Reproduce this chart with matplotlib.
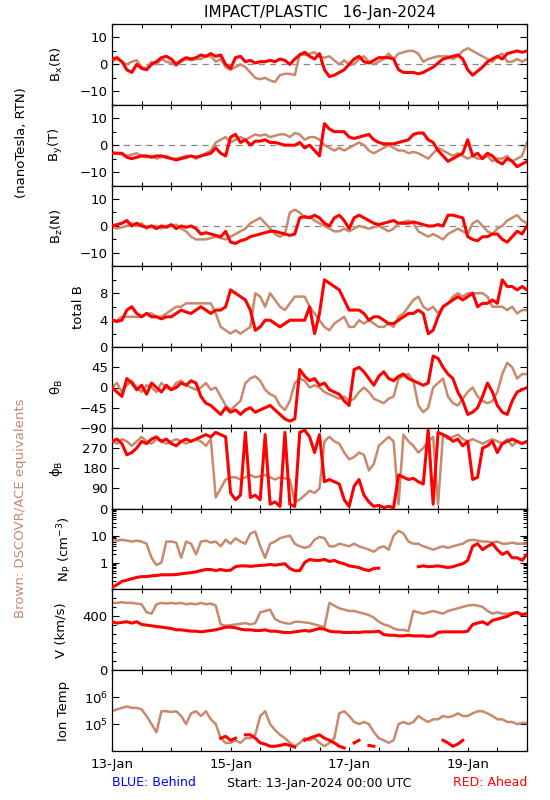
import numpy as np
import matplotlib
matplotlib.use('Agg')
import matplotlib.pyplot as plt
from matplotlib.ticker import MultipleLocator, LogLocator, NullLocator

plt.rcParams.update({
    'font.family': 'DejaVu Sans',
    'font.size': 9,
    'mathtext.default': 'regular',
})

RED = '#ff0000'
BROWN = '#c8896d'
nan = np.nan

# 2-hour samples, 13-Jan 00:00 -> 20-Jan 00:00
bx_red = [2, 2.5, 1, -2, -3, 0, -1.5, -2, 0, 1, 2.5, 3, 2, 0, 1.5, 2.5, 2, 2.5, 3.5, 3, 4,
          3, 3.5, 0, -1.5, 2.5, 3, 1, 1.5, 0.5, 1, 1, 1.5, 1, 2, 1.5, 0, 2, 3.5, 4.5, 3,
          2, 4, -2, -4.5, -4, -3, -2, 0, 2, 3, 1, 0.5, 1.5, 2.5, 2.5, 2.5, 2, -2, -3, -3,
          -3, -3.5, -3, -2, -1, 0.5, 2, 2.5, 3, 3.5, 2, -2, -4, -2.5, -1, 1, 2, 3, 2, 4,
          4.5, 5, 4.5, 5]
bx_brown = [1, 2, 1, 0, 1, 1.5, -1, -1.5, 1, 0, 2, 1, 0.5, -0.5, 1, 2, 1.5, 2, 2, 3, 3,
            1, 2, -1, -2, -1, 0, -1, -3, -5, -5.5, -5, -6, -6.5, -4, -3.5, -3.5, -4, 4, 3.5, 4,
            4.5, 3, 2.5, 3, 1.5, 0, 1.5, 0, 0, 2, 3, 1, 0, 1, 2, 4, 2, 4, 4.5, 5,
            5, 4, 1, 2, 2.5, 3, 3, 3, 2, 3, 5, 6, 5, 4, 3, 2, 1, 3, 4, 1,
            1, 2, 1, 2]

by_red = [-3, -3, -3, -4.5, -5, -4.5, -4, -4, -4.5, -4, -4, -4.5, -5, -5.5, -5, -4.5, -4,
          -4.5, -4, -3.5, -3, -1, -3, -4, 3, 4, 1, 2, 0, 1.5, 1.5, 2, 1, 1, 0.5, 0, 0,
          0, 1, -1, 0, -2, -4, 8, 6, 5, 5, 5, 3, 2.5, 3, 3.5, 4, 2, 1, 0.5, 0.5,
          0.5, 1, 1.5, 2, 4, 4.5, 4.5, 2, 1, -2, -4, -6, -5, -4, -3, 2, -4, -3, -5, -3,
          -4, -6, -7, -5, -6, -8, -7, -6]
by_brown = [-2.5, -3, -3.5, -4, -3.5, -3, -4, -4.5, -4, -5, -4.5, -4, -5, -5, -4.5, -4, -4,
            -5, -4, -3, -2, 1, 2, 3, 1, 2, 3, 2, 3, 4, 3.5, 4, 3, 3.5, 4, 4, 3,
            4.5, 4, 2, 3, 3, 2, 0, -1, -2, -1, -2, -1, 0, 1, 0, -2, -3, -2, -1, 0,
            -1, -2, -2, -3, -2.5, -3, -4, -5, -3, -1, -2, -3, -4, -3, -4, -5, -4, -5, -5, -4,
            -6, -5, -5, -4, -6, -5, -4, 1]

bz_red = [0, 0.5, 1, 2, 0, 1, 0, -0.5, 0, -1, 0, -0.5, 0.5, -1, 0, -0.5, 0, -1, -3, -2.5,
          -3, -3.5, -4, -2, -6, -6.5, -5.5, -5, -4, -3.5, -3, -2.5, -2, -2, -2.5, -3, -3.5,
          -3, 3, 3.5, 3, 4, 3, 1, 0, 3, 4, 2, -1, 3, 4, 3, 2, 1, 0.5, 1, 1.5,
          2, 1, 1, 1, 1.5, 1, 0.5, 0, 0, 0.5, 0, 4, 4, 3.5, 3, -4, -5, -5.5, -4, -4,
          -3, -3, -5, -6, -4, -2, -3, 0]
bz_brown = [0, -1, -0.5, 0, 1, 0, 1, -1, 0, 0, -1, 0, 0, 0.5, -1, -2, -4, -5, -5, -5,
            -4.5, -4, -4.5, -5, -4, -3, -2, -1, 1, 2, 3, 1, -1, -3, -4, -3, 5, 6, 5, 3,
            3.5, 2, 1, 0, -1, -2, -2, -1, -2, -1, 0, -0.5, -1, -0.5, 0, -1, -2, -1, 1,
            1.5, 2, 1, -2, -3, -4, -3, -4, -5, -3, -2, -1, -2, -3, 1, 2, 0, -2, -3, -1,
            0, 2, 3, 4, 2, 1]

bt_red = [4, 3.8, 4, 5.5, 6, 5, 4.5, 5, 4.5, 4.5, 4.2, 4.5, 4.5, 5, 5.5, 5.2, 5, 5.5, 6,
          5.5, 5, 5.5, 5.5, 6, 8.5, 8, 7.5, 7, 5.5, 2.5, 3, 4, 4, 3.5, 3, 3.5, 4, 4, 4,
          4, 6, 2, 5, 10, 9.5, 9, 8.5, 7, 5.5, 5.5, 5.5, 5, 4, 4.5, 4.5, 4, 3.5, 3.5,
          4, 4.5, 5, 5, 5.5, 5, 2, 2.5, 4.5, 6, 6.5, 7, 7.5, 7, 7.5, 8, 6, 6.5, 6.5,
          7, 6.5, 10, 9, 9, 8.5, 9, 8.5]
bt_brown = [4, 4, 4.5, 4.5, 4.5, 4.5, 4.5, 5, 5, 4.5, 4.5, 5, 5.5, 6, 6, 6.5, 6.5, 6.5,
            6.5, 6.5, 6.5, 5, 3, 2.5, 2, 2.5, 2, 2.5, 3, 8, 7.5, 6, 8, 7, 6, 5.5, 6.5,
            7.5, 7.5, 7.5, 6, 5, 4, 3, 2.5, 3.5, 4, 4.5, 3, 3, 4, 3.5, 4, 3.5, 3, 3,
            3.5, 3, 4.5, 5, 6, 7, 7.5, 6, 5.5, 6, 5, 6, 6.5, 7.5, 8, 7.5, 8, 8, 8, 8,
            7.5, 6, 6, 6, 5.5, 6, 5, 5.5, 5.5]

theta_red = [0, -10, -20, 20, 10, -5, 5, -15, 10, 0, -10, 5, -5, 0, 10, 5, 15, 10, -20,
             -35, -40, -50, -60, -45, -55, -50, -60, -50, -45, -55, -50, -45, -40, -50,
             -60, -70, -75, -70, 40, 25, 15, 20, 5, 10, -5, -10, -15, -30, -40, 40, 45,
             35, 20, 5, 25, 35, 20, 15, 25, 30, 20, 15, 10, 5, 10, 70, 65, 45, 30, 20,
             -10, -30, -60, -55, -45, -20, 10, -10, -40, -55, -60, -30, -10, -5, 0]
theta_brown = [0, 10, -10, 5, 15, 0, -10, 5, 0, -10, 10, 0, -5, 10, 15, 5, 0, -5, 0, 10,
               -5, 0, -20, -40, -50, -40, -30, 10, 20, 25, 15, -5, -15, -20, -40, -50,
               -30, 10, 20, 15, 0, 5, 0, -10, -15, -20, -25, -20, -30, -25, -10, 0, -10,
               -25, -30, -35, -25, -20, 20, 25, 30, 15, -40, -55, -45, 0, 10, 20, -20,
               -35, -40, -25, -10, 0, -20, -30, -35, -30, -10, 30, 55, 45, 20, 30, 30]

phi_red = [300, 310, 290, 240, 250, 270, 300, 290, 310, 320, 300, 310, 290, 280, 300, 310,
           300, 310, 320, 330, 320, 340, 330, 320, 70, 40, 60, 340, 50, 60, 40, 330, 20,
           30, 10, 340, 20, 10, 340, 350, 320, 250, 330, 120, 130, 120, 110, 40, 10, 100,
           130, 60, 30, 10, 15, 5, 10, 5, 150, 140, 130, 135, 120, 110, 350, 20, 340,
           330, 320, 300, 310, 280, 300, 130, 140, 270, 280, 300, 250, 290, 300, 310, 300,
           290, 300]
phi_brown = [300, 290, 310, 300, 280, 300, 320, 300, 290, 310, 300, 290, 300, 310, 300,
             290, 300, 310, 300, 280, 310, 50, 90, 130, 140, 140, 130, 140, 150, 140, 145,
             150, 140, 130, 140, 135, 130, 30, 40, 60, 80, 70, 90, 300, 320, 300, 290,
             250, 220, 230, 250, 240, 170, 200, 280, 300, 320, 300, 20, 330, 300, 280,
             250, 270, 300, 320, 20, 330, 310, 320, 330, 310, 300, 310, 300, 290, 300,
             310, 300, 290, 310, 280, 300, 290, 300]

np_red = [0.12, 0.15, 0.2, 0.22, 0.25, 0.28, 0.3, 0.3, 0.32, 0.33, 0.35, 0.35, 0.35, 0.36,
          0.38, 0.4, 0.42, 0.45, 0.5, 0.55, 0.55, 0.5, 0.55, 0.5, 0.52, 0.7, 0.75, 0.75,
          0.72, 0.75, 0.78, 0.8, 0.85, 0.8, 0.85, 0.9, 0.6, 0.5, 0.5, 1.0, 1.3, 1.2, 1.2,
          1.3, 1.1, 1.2, 1.0, 0.9, 0.75, 0.7, 0.65, 0.55, 0.5, 0.6, 0.62, nan, nan, nan,
          nan, nan, nan, nan, 0.7, 0.75, 0.7, 0.72, 0.75, 0.7, 0.65, 0.7, 0.8, 0.9, 1.2,
          4, 5, 3, 4, 5, 3, 2, 2.5, 1.5, 1.5, 1.2, 2]
np_brown = [7, 6.5, 7, 6.5, 6, 6.5, 6, 5, 1.5, 0.8, 1, 6, 6, 5.5, 1.5, 6, 5, 2, 6, 6.5,
            5.5, 6, 4, 7, 5, 8, 6, 5, 12, 14, 4, 1.5, 5, 6, 8, 9, 10, 5, 4, 3.5, 4, 7,
            9, 8, 4, 4, 5, 4.5, 4, 5, 4, 3.5, 3, 2.5, 3.5, 4, 3, 10, 15, 12, 6, 5, 5,
            4, 3.5, 3, 3.5, 4, 3.5, 4, 4.5, 5, 6.5, 7, 6.5, 6, 6, 5.5, 6, 5, 5, 5.5, 5,
            5, 5]

v_red = [360, 350, 355, 360, 350, 360, 340, 335, 330, 325, 320, 315, 310, 300, 300, 295,
         290, 290, 285, 290, 295, 300, 310, 320, 320, 315, 305, 300, 300, 295, 295, 300,
         290, 290, 285, 280, 280, 285, 290, 295, 290, 300, 310, 305, 290, 285, 285, 280,
         280, 282, 280, 285, 285, 285, 290, 265, 260, 260, 255, 255, 260, 255, 255, 255,
         250, 255, 280, 285, 285, 285, 285, 285, 290, 340, 350, 360, 340, 370, 380, 390,
         400, 420, 430, 410, 420]
v_brown = [500, 500, 505, 500, 500, 495, 490, 430, 420, 490, 500, 495, 500, 495, 500, 490,
           495, 490, 500, 490, 495, 480, 340, 330, 335, 340, 345, 350, 340, 350, 430, 440,
           450, 380, 360, 350, 345, 360, 360, 355, 350, 340, 330, 320, 500, 480, 460, 450,
           440, 440, 430, 420, 410, 390, 360, 340, 330, 310, 300, 300, 290, 440, 430, 420,
           430, 440, 430, 420, 440, 450, 460, 470, 480, 485, 480, 470, 440, 420, 430, 420,
           420, 425, 430, 420, 425]

t_red = [nan] * 22 + [3e4, 3.5e4, 2.5e4, 3e4, nan, 4e4, 4e4, 3e4, 2e4, 1.8e4, 1.5e4,
                      1.5e4, 1.6e4, 1.8e4, 1.6e4, 1.4e4, nan, 2.5e4, 3e4, 3.5e4, 4e4,
                      3e4, 2.5e4, 2e4, 1.5e4, 1.3e4, nan, 2e4, 2.5e4, nan, 1.6e4, 1.5e4] \
        + [nan] * 13 + [2.5e4, 2e4, 1.5e4, 1.8e4, 2.5e4] + [nan] * 13
t_brown = [3e5, 3.5e5, 4e5, 4.5e5, 4e5, 4e5, 3.5e5, 2e5, 1e5, 5e4, 3e5, 3e5, 2.8e5, 3e5,
           2e5, 1e5, 2.5e5, 3e5, 2e5, 3e5, 1.5e5, 1e5, 3e4, 2e4, 2e4, 2.5e4, 2e4, 3e4,
           3e4, 4e4, 2e5, 3e5, 1e5, 6e4, 4e4, 3e4, 2e4, 1.5e4, 2e4, 3e4, 2.5e4, 3e4, 2e4,
           1.5e4, 2e4, 3e4, 2.5e5, 3e5, 2e5, 1.2e5, 1e5, 1.2e5, 1e5, 5e4, 3e4, 2.5e4,
           2e4, 2.5e4, 1e5, 1.2e5, 1e5, 1.2e5, 2e5, 1.5e5, 1.2e5, 1.5e5, 1.5e5, 2e5,
           1.8e5, 2e5, 2.5e5, 2e5, 2e5, 2.5e5, 3e5, 3e5, 2.5e5, 2e5, 1.5e5, 1.5e5, 1.2e5,
           1.2e5, 1e5, 1.1e5, 1.1e5]

day_ticks = [0, 48, 96, 144]
day_labels = ['13-Jan', '15-Jan', '17-Jan', '19-Jan']

hours = np.arange(len(bx_red)) * 2.0

W, H = 550, 800
fig = plt.figure(figsize=(W / 100, H / 100), dpi=100)

x0, x1 = 112, 527
y_top, y_bot = 24, 751
ph = (y_bot - y_top) / 9.0

panels = [
    (r'B$_x$(R)', bx_red, bx_brown, (-15, 15), [-10, 0, 10], ['\u221210', '0', '10'], -0.113),
    (r'B$_y$(T)', by_red, by_brown, (-15, 15), [-10, 0, 10], ['\u221210', '0', '10'], -0.113),
    (r'B$_z$(N)', bz_red, bz_brown, (-15, 15), [-10, 0, 10], ['\u221210', '0', '10'], -0.113),
    ('total B', bt_red, bt_brown, (0, 12), [0, 4, 8], ['0', '4', '8'], -0.066),
    (r'$\theta_B$', theta_red, theta_brown, (-90, 90), [-90, -45, 0, 45],
     ['\u221290', '\u221245', '0', '45'], -0.113),
    (r'$\phi_B$', phi_red, phi_brown, (0, 360), [0, 90, 180, 270],
     ['0', '90', '180', '270'], -0.113),
    (r'N$_P$ (cm$^{-3}$)', np_red, np_brown, (0.1, 100), [1, 10], ['1', '10'], -0.092),
    ('V (km/s)', v_red, v_brown, (0, 600), [0, 400], ['0', '400'], -0.108),
    ('Ion Temp', t_red, t_brown, (1e4, 1e7), [1e5, 1e6],
     [r'10$^5$', r'10$^6$'], -0.10),
]

for k, (label, red, brown, ylim, yt, ytl, lx) in enumerate(panels):
    top = y_top + k * ph
    ax = fig.add_axes([x0 / W, 1 - (top + ph) / H, (x1 - x0) / W, ph / H])
    if k in (6, 8):
        ax.set_yscale('log')
    if k < 3:
        ax.axhline(0, color='#888888', lw=0.9, dashes=(5, 4), zorder=1)
    ax.plot(hours, brown, color=BROWN, lw=1.8, zorder=2)
    ax.plot(hours, red, color=RED, lw=2.2, zorder=3)
    ax.set_xlim(0, 168)
    ax.set_ylim(*ylim)
    ax.set_yticks(yt)
    ax.set_yticklabels(ytl)
    if k < 3:
        ax.yaxis.set_minor_locator(MultipleLocator(5))
    elif k == 3:
        ax.yaxis.set_minor_locator(MultipleLocator(2))
    elif k == 6:
        ax.yaxis.set_minor_locator(LogLocator(base=10, subs=np.arange(2, 10)))
    elif k == 7:
        ax.yaxis.set_minor_locator(MultipleLocator(400 / 6))
    else:
        ax.yaxis.set_minor_locator(NullLocator())
    ax.set_xticks(day_ticks)
    ax.xaxis.set_minor_locator(MultipleLocator(12))
    if k == 8:
        ax.set_xticklabels(day_labels, fontsize=9.5)
    else:
        ax.set_xticklabels([])
    ax.tick_params(axis='both', which='both', direction='in', top=True, right=True,
                   width=0.8, labelsize=9.5, pad=3)
    ax.tick_params(axis='y', which='major', length=5)
    ax.tick_params(axis='y', which='minor', length=3)
    ax.tick_params(axis='x', which='both', length=3)
    ax.tick_params(axis='x', which='major', pad=5)
    for s in ax.spines.values():
        s.set_linewidth(0.9)
    ax.set_ylabel(label, fontsize=9.5)
    ax.yaxis.set_label_coords(lx, 0.5)

fig.text(319.5 / W, 1 - 13 / H, 'IMPACT/PLASTIC   16-Jan-2024', ha='center', va='center',
         fontsize=11)
fig.text(22 / W, 1 - 143 / H, '(nanoTesla, RTN)', rotation=90, ha='center', va='center',
         fontsize=9.5)
fig.text(21 / W, 1 - 508 / H, 'Brown: DSCOVR/ACE equivalents', rotation=90, ha='center',
         va='center', fontsize=9.5, color=BROWN)
fig.text(x0 / W, 1 - 783 / H, 'BLUE: Behind', ha='left', va='center', color='#0000ff',
         fontsize=9)
fig.text(319.5 / W, 1 - 783 / H, 'Start: 13-Jan-2024 00:00 UTC', ha='center', va='center',
         fontsize=9)
fig.text(x1 / W, 1 - 783 / H, 'RED: Ahead', ha='right', va='center', color=RED, fontsize=9)

fig.savefig('out.png', dpi=100)
